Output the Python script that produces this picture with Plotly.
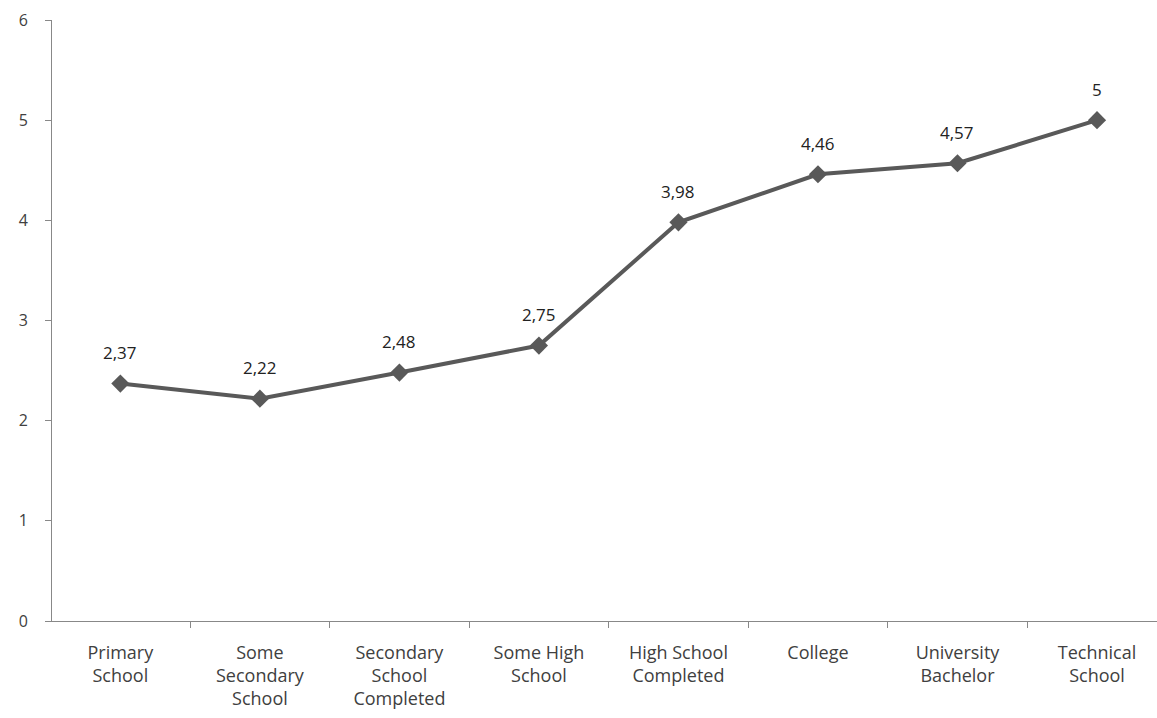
import plotly.graph_objects as go

categories = ["Primary<br>School", "Some<br>Secondary<br>School", "Secondary<br>School<br>Completed",
              "Some High<br>School", "High School<br>Completed", "College", "University<br>Bachelor",
              "Technical<br>School"]
values = [2.37, 2.22, 2.48, 2.75, 3.98, 4.46, 4.57, 5]
y_ticks = [0, 1, 2, 3, 4, 5, 6]

line_color = "#595959"
axis_color = "#888888"
text_color = "#404040"
font_family = "Open Sans, Noto Sans, sans-serif"

fig = go.Figure()
fig.add_trace(go.Scatter(
    x=categories, y=values, mode="lines+markers",
    line=dict(color=line_color, width=4),
    marker=dict(symbol="diamond", size=14, color=line_color),
    hoverinfo="skip", showlegend=False,
))

for c, v in zip(categories, values):
    fig.add_annotation(x=c, y=v, text=f"{v:g}".replace(".", ","), showarrow=False,
                       yshift=31, font=dict(size=17, color="#222222", family=font_family))

fig.update_layout(
    width=1157, height=718,
    margin=dict(l=52, r=0, t=20, b=97),
    paper_bgcolor="white", plot_bgcolor="white",
    font=dict(family=font_family, color=text_color),
)
fig.update_xaxes(
    type="category", categoryorder="array", categoryarray=categories,
    range=[-0.49, 7.43], tickson="boundaries",
    showgrid=False, zeroline=False,
    showline=True, linecolor=axis_color, linewidth=1,
    ticks="outside", ticklen=6, tickcolor=axis_color,
    tickfont=dict(size=18, color=text_color), ticklabelstandoff=15,
)
fig.update_yaxes(
    range=[0, 6], tickvals=y_ticks, showgrid=False, zeroline=False,
    showline=True, linecolor=axis_color, linewidth=1,
    ticks="outside", ticklen=6, tickcolor=axis_color,
    tickfont=dict(size=16, color=text_color), ticklabelstandoff=14,
)

fig.write_html("out.html")
